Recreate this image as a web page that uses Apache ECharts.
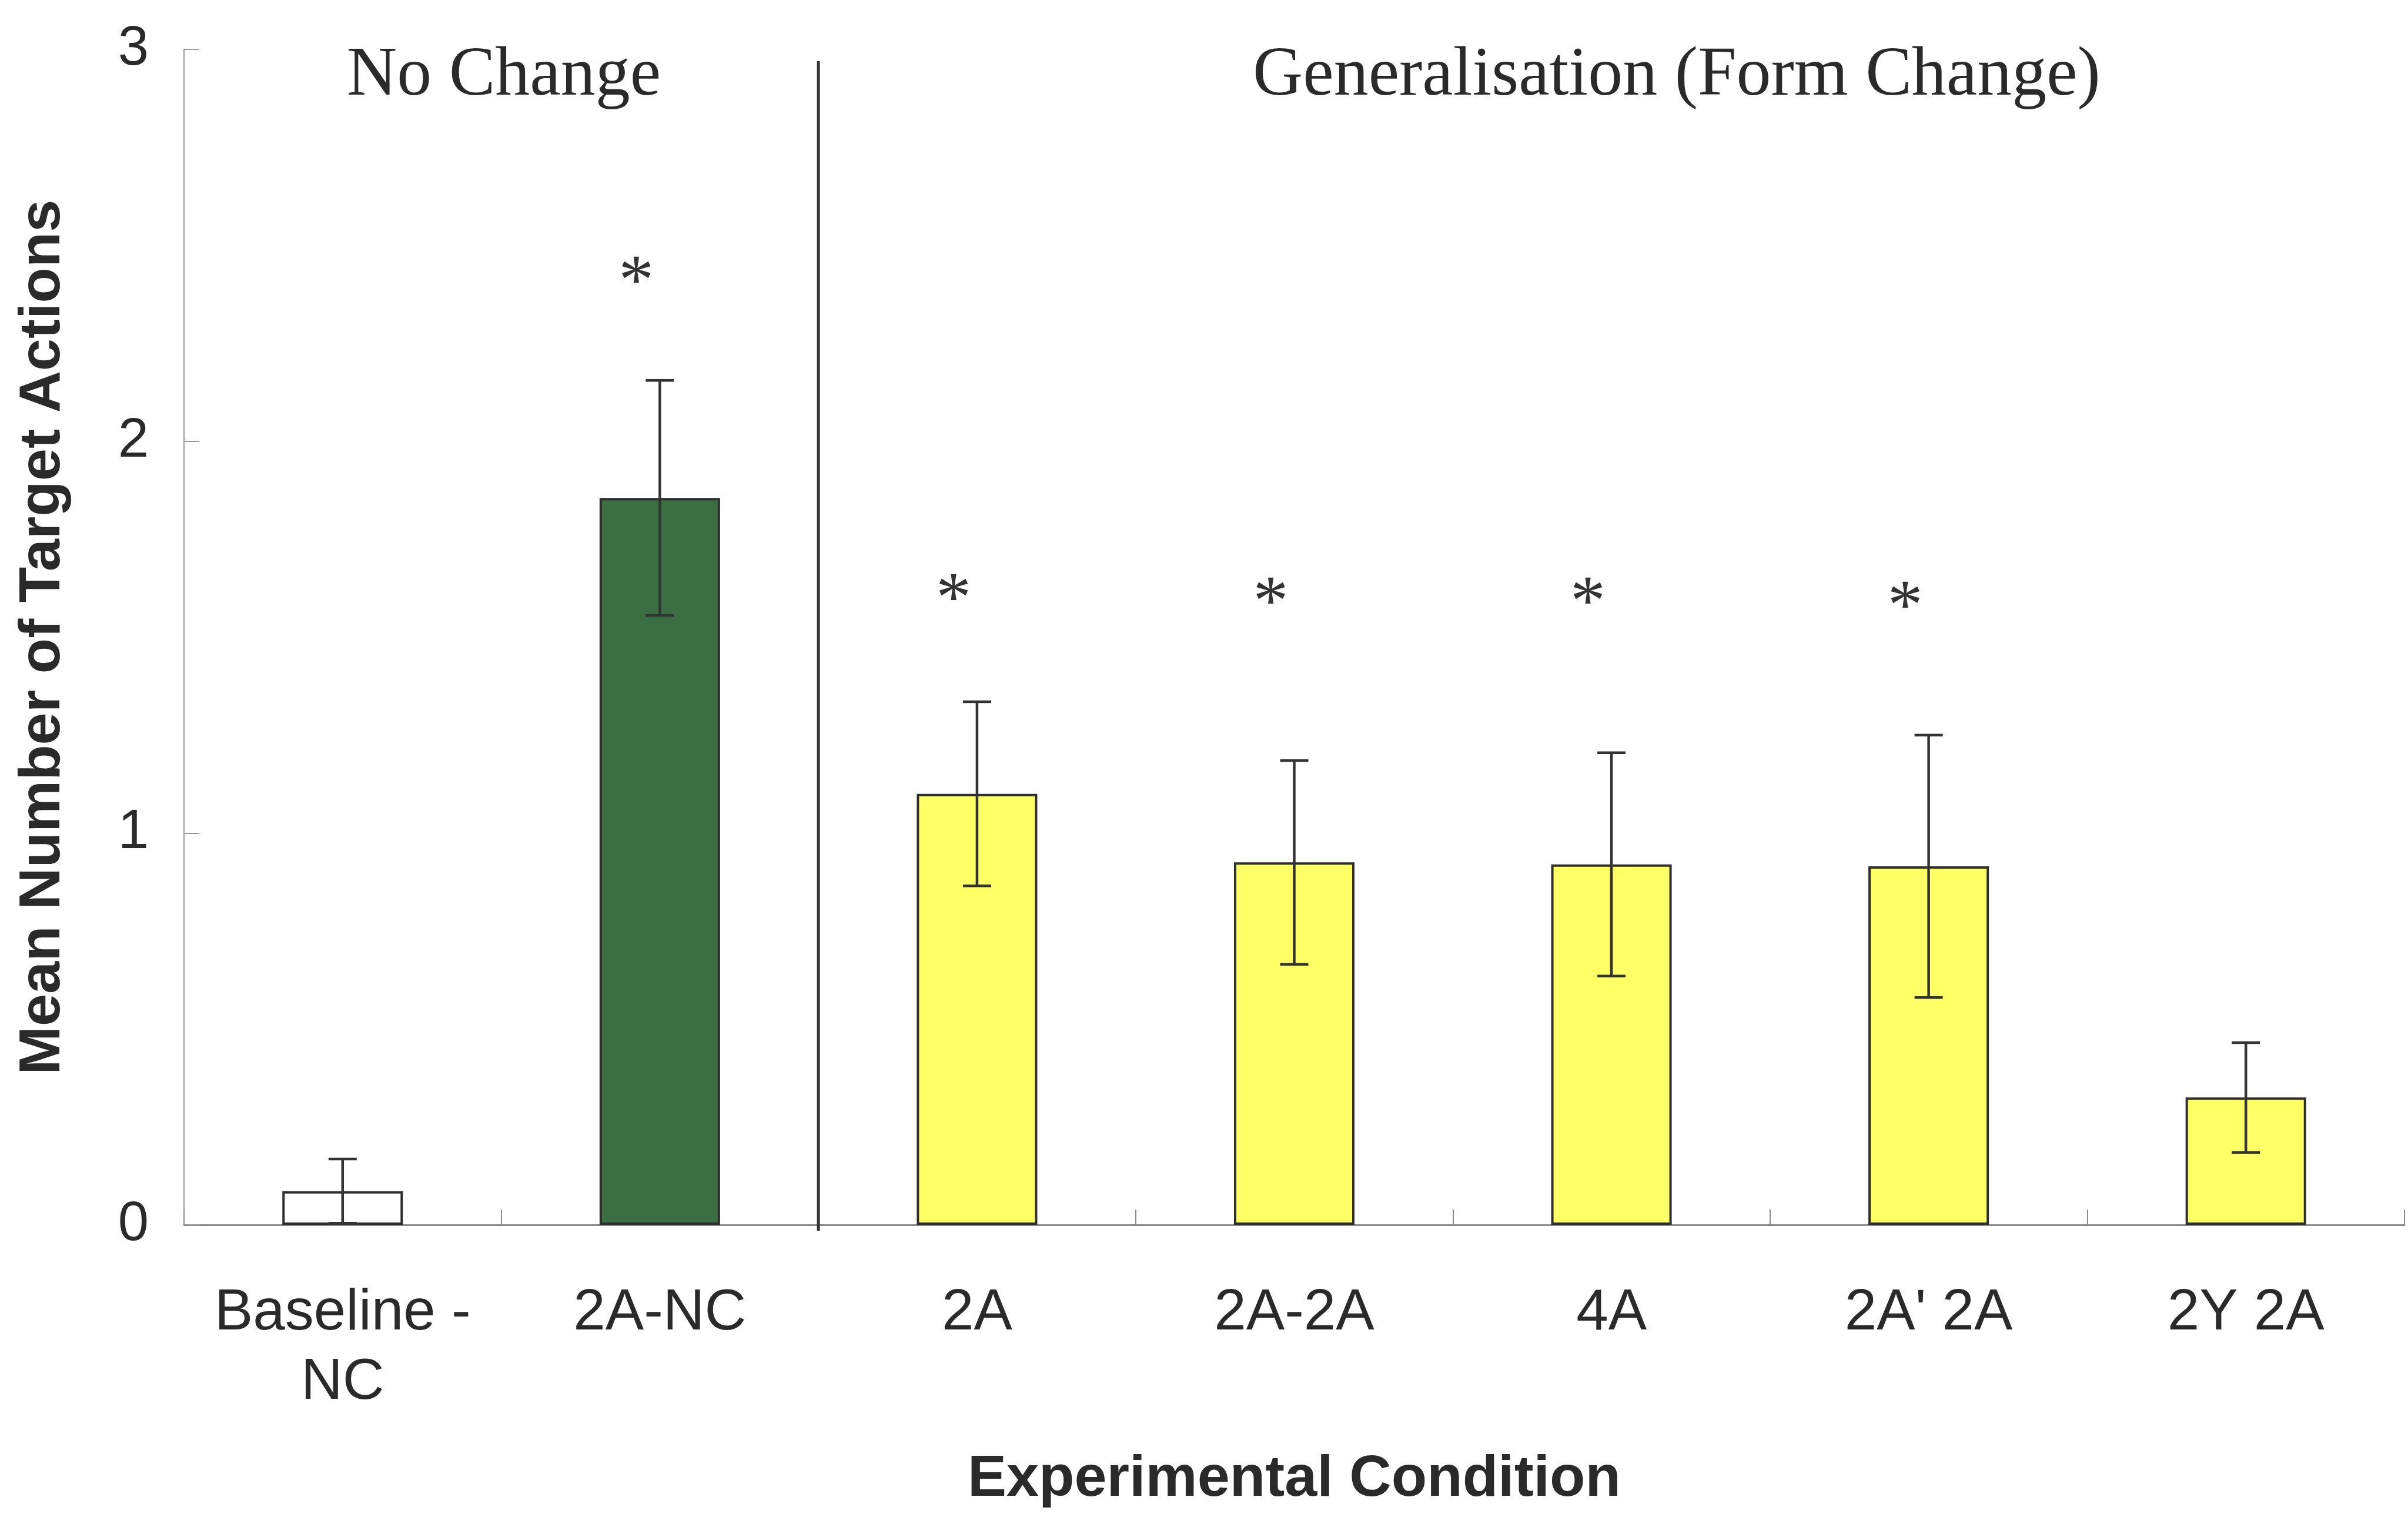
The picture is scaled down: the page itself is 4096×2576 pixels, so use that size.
<!DOCTYPE html>
<html>
<head>
<meta charset="utf-8">
<script src="https://cdn.jsdelivr.net/npm/echarts@6/dist/echarts.min.js"></script>
<style>
html,body{margin:0;padding:0;background:#fff;}
#chart{width:4096px;height:2576px;}
</style>
</head>
<body>
<div id="chart"></div>
<script>
const categories = ['Baseline -\nNC', '2A-NC', '2A', '2A-2A', '4A', "2A' 2A", '2Y 2A'];
const means = [0.086, 1.855, 1.10, 0.925, 0.92, 0.915, 0.325];
const errors = [0.082, 0.30, 0.235, 0.26, 0.285, 0.335, 0.14];
const starLevels = [null, 2.40, 1.59, 1.58, 1.58, 1.57, null];
const barColors = ['#FFFFFF', '#3B6E43', '#FFFF66', '#FFFF66', '#FFFF66', '#FFFF66', '#FFFF66'];
const yTicks = [0, 1, 2, 3];
const sectionLabels = ['No Change', 'Generalisation (Form Change)'];
const dividerAfter = 1;   // divider sits after this category index
const dividerTop = 2.97;

const serif = '"Liberation Serif", "DejaVu Serif", serif';
const sans = '"Liberation Sans", Arial, sans-serif';

const chart = echarts.init(document.getElementById('chart'), null, {renderer: 'canvas'});

const option = {
  backgroundColor: '#ffffff',
  animation: false,
  grid: {left: 313, right: 6, top: 84, bottom: 492, containLabel: false},
  xAxis: {
    type: 'category',
    data: categories,
    name: 'Experimental Condition',
    nameLocation: 'middle',
    nameGap: 384,
    nameTextStyle: {fontFamily: sans, fontWeight: 'bold', fontSize: 99, color: '#2a2a2a'},
    axisLine: {lineStyle: {color: '#8a8a8a', width: 3}},
    axisTick: {show: true, inside: true, length: 26, alignWithLabel: false, lineStyle: {color: '#8a8a8a', width: 2}},
    axisLabel: {fontFamily: sans, fontSize: 98, color: '#2a2a2a', margin: 92, lineHeight: 118, interval: 0},
    splitLine: {show: false}
  },
  yAxis: {
    type: 'value',
    min: 0, max: 3, interval: 1,
    name: 'Mean Number of Target Actions',
    nameLocation: 'middle',
    nameGap: 190,
    nameRotate: 90,
    nameTextStyle: {fontFamily: sans, fontWeight: 'bold', fontSize: 99, color: '#2a2a2a'},
    axisLine: {show: true, lineStyle: {color: '#9a9a9a', width: 2}},
    axisTick: {show: true, inside: true, length: 26, lineStyle: {color: '#9a9a9a', width: 2}},
    axisLabel: {fontFamily: sans, fontSize: 94, color: '#2a2a2a', margin: 60,
      formatter: v => (yTicks.indexOf(v) >= 0 ? String(v) : '')},
    splitLine: {show: false}
  },
  graphic: [
    {type: 'text', x: 857, y: 130, style: {text: sectionLabels[0], font: '118px ' + serif, fill: '#2a2a2a', align: 'center', verticalAlign: 'middle'}},
    {type: 'text', x: 2852, y: 130, style: {text: sectionLabels[1], font: '118px ' + serif, fill: '#2a2a2a', align: 'center', verticalAlign: 'middle'}}
  ],
  series: [
    {
      type: 'bar',
      barWidth: '38%',
      data: means.map((v, i) => ({value: v, itemStyle: {color: barColors[i]}})),
      itemStyle: {borderColor: '#2e2e2e', borderWidth: 4},
      z: 2
    },
    {
      type: 'custom',
      z: 5,
      data: means.map((v, i) => [i, v, errors[i]]),
      renderItem: function (params, api) {
        const i = api.value(0), m = api.value(1), e = api.value(2);
        const top = api.coord([i, m + e]);
        const bot = api.coord([i, Math.max(0, m - e)]);
        const hw = 24;
        const style = {stroke: '#333333', lineWidth: 4.5};
        return {type: 'group', children: [
          {type: 'line', shape: {x1: top[0], y1: top[1], x2: bot[0], y2: bot[1]}, style: style},
          {type: 'line', shape: {x1: top[0] - hw, y1: top[1], x2: top[0] + hw, y2: top[1]}, style: style},
          {type: 'line', shape: {x1: bot[0] - hw, y1: bot[1], x2: bot[0] + hw, y2: bot[1]}, style: style}
        ]};
      }
    },
    {
      type: 'custom',
      z: 6,
      data: starLevels.map((v, i) => [i, v]).filter(d => d[1] !== null),
      renderItem: function (params, api) {
        const p = api.coord([api.value(0), api.value(1)]);
        return {type: 'text', x: p[0] - 40, y: p[1],
          style: {text: '*', font: '120px ' + serif, fill: '#333333', align: 'center', verticalAlign: 'middle'}};
      }
    },
    {
      type: 'custom',
      z: 7,
      data: [[dividerAfter, dividerTop]],
      renderItem: function (params, api) {
        const i = api.value(0);
        const w = api.size([1, 0])[0];
        const t = api.coord([i, api.value(1)]);
        const b = api.coord([i, 0]);
        const x = t[0] + w / 2;
        return {type: 'line', shape: {x1: x, y1: t[1], x2: x, y2: b[1] + 10},
          style: {stroke: '#333333', lineWidth: 5}};
      }
    }
  ]
};
chart.setOption(option);
</script>
</body>
</html>
